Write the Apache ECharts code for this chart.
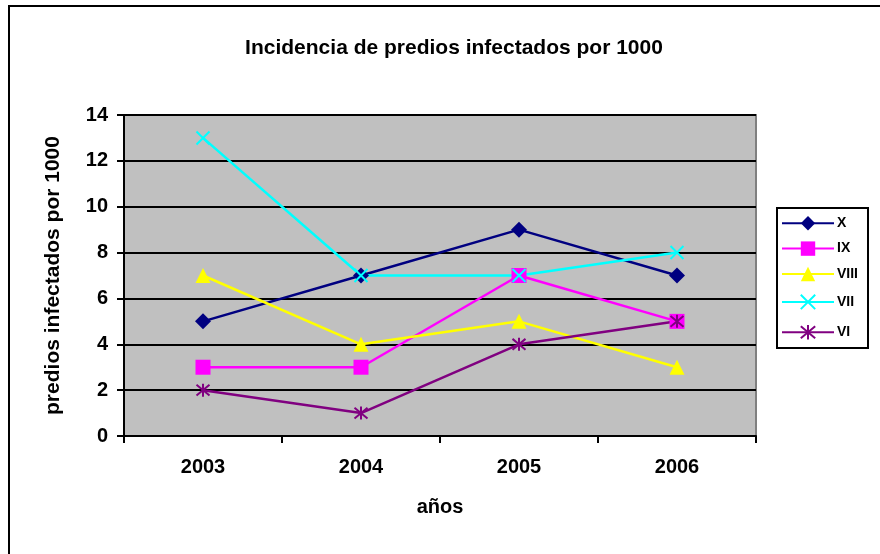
<!DOCTYPE html>
<html>
<head>
<meta charset="utf-8">
<script src="https://cdn.jsdelivr.net/npm/echarts@6/dist/echarts.min.js"></script>
<style>
  html, body { margin: 0; padding: 0; background: #fff; }
  #chart { width: 880px; height: 554px; }
</style>
</head>
<body>
<div id="chart"></div>
<script>
// datos
const years = ['2003', '2004', '2005', '2006'];
const serieX = [5, 7, 9, 7];
const serieIX = [3, 3, 7, 5];
const serieVIII = [7, 4, 5, 3];
const serieVII = [13, 7, 7, 8];
const serieVI = [2, 1, 4, 5];

const FONT = 'Liberation Sans, Arial, sans-serif';
const crossPath = 'path://M0 0L20 20M20 0L0 20';
const starPath = 'path://M0 0L20 20M20 0L0 20M10 -2L10 22';

function lineSerie(name, data, color, symbol, size, stroke) {
    const s = {
        name: name,
        type: 'line',
        data: data,
        symbol: symbol,
        symbolSize: size,
        lineStyle: { color: color, width: 2.5 },
        itemStyle: { color: color }
    };
    if (stroke) {
        s.itemStyle = { color: 'none', borderColor: color, borderWidth: 2 };
    }
    return s;
}

const chart = echarts.init(document.getElementById('chart'));
const option = {
    animation: false,
    textStyle: { fontFamily: FONT },
    title: {
        text: 'Incidencia de predios infectados por 1000',
        left: 449,
        top: 33,
        textAlign: 'center',
        textStyle: { fontSize: 21, fontWeight: 'bold', color: '#000', fontFamily: FONT }
    },
    graphic: [{
        type: 'rect',
        shape: { x: 9, y: 6, width: 880, height: 560 },
        style: { fill: 'none', stroke: '#000', lineWidth: 2 },
        silent: true
    }],
    legend: {
        orient: 'vertical',
        left: 777,
        top: 208,
        padding: [8, 10, 6, 4],
        itemGap: 11,
        itemWidth: 52,
        itemHeight: 18,
        backgroundColor: '#fff',
        borderColor: '#000',
        borderWidth: 2,
        textStyle: { fontSize: 14, fontWeight: 'bold', color: '#000', fontFamily: FONT, padding: [0, 0, 0, -2] },
        data: ['X', 'IX', 'VIII', 'VII', 'VI']
    },
    grid: {
        left: 124,
        right: 124,
        top: 115,
        bottom: 118,
        show: true,
        backgroundColor: '#C0C0C0',
        borderColor: '#808080',
        borderWidth: 2
    },
    xAxis: {
        type: 'category',
        data: years,
        boundaryGap: true,
        name: 'años',
        nameLocation: 'middle',
        nameGap: 61,
        nameTextStyle: { fontSize: 20, fontWeight: 'bold', color: '#000' },
        axisLine: { lineStyle: { color: '#000', width: 2 } },
        axisTick: { show: true, length: 7, interval: 0, lineStyle: { color: '#000', width: 2 } },
        axisLabel: { fontSize: 20, fontWeight: 'bold', color: '#000', margin: 21 }
    },
    yAxis: {
        type: 'value',
        min: 0,
        max: 14,
        interval: 2,
        name: 'predios infectados por 1000',
        nameLocation: 'middle',
        nameGap: 60,
        nameTextStyle: { fontSize: 21, fontWeight: 'bold', color: '#000' },
        axisLine: { show: true, lineStyle: { color: '#000', width: 2 } },
        axisTick: { show: true, length: 7, lineStyle: { color: '#000', width: 2 } },
        axisLabel: { fontSize: 20, fontWeight: 'bold', color: '#000', margin: 16 },
        splitLine: { show: true, lineStyle: { color: '#000', width: 2 } }
    },
    series: [
        lineSerie('X', serieX, '#000080', 'diamond', 16, false),
        lineSerie('IX', serieIX, '#FF00FF', 'rect', 15, false),
        lineSerie('VIII', serieVIII, '#FFFF00', 'triangle', 15, false),
        lineSerie('VII', serieVII, '#00FFFF', crossPath, 13, true),
        lineSerie('VI', serieVI, '#800080', starPath, 13, true)
    ]
};
chart.setOption(option);
</script>
</body>
</html>
